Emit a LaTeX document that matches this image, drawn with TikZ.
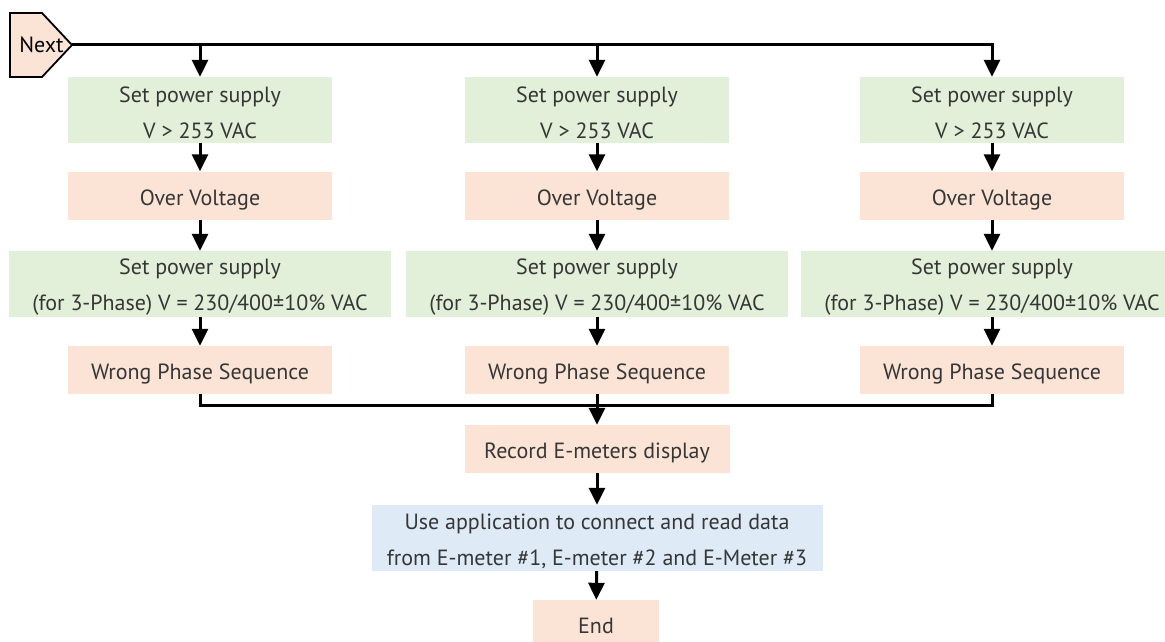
\documentclass[tikz,border=0pt]{standalone}
\usepackage{fontspec}
\setmainfont{PT Sans}
\usetikzlibrary{arrows.meta,calc,positioning}
\definecolor{greenbox}{HTML}{E2EFD9}
\definecolor{orangebox}{HTML}{FBE4D5}
\definecolor{bluebox}{HTML}{DEEAF6}
\definecolor{boxtext}{HTML}{363636}
\newcommand\lowfirst{\rule{0pt}{22pt}}

\begin{document}
\begin{tikzpicture}[x=1pt,y=-1pt,
  every node/.style={align=center,inner sep=0pt,text=boxtext,font=\fontsize{22}{36}\selectfont},
  setbox/.style={fill=greenbox,minimum height=66pt},
  statebox/.style={fill=orangebox,minimum width=264pt,minimum height=48pt,text height=23pt,text depth=4pt},
  appbox/.style={fill=bluebox,minimum width=451pt,minimum height=66pt},
  flow/.style={line width=3pt,-{Triangle[width=16pt,length=17pt]}},
  joint/.style={line width=3pt}]
\useasboundingbox (0,0) rectangle (1165,642);
\draw [line width=1.8pt,fill=orangebox] (10,13) -- (42,13) -- (72,45) -- (42,77) -- (10,77) -- cycle;
\node [text=black] (Next) at (41.5,45) {Next};
\coordinate (NextTip) at (72,45);
\node [setbox,minimum width=264pt] (SetHigh1) at (200,110) {\lowfirst Set power supply\\V > 253 VAC};
\node [setbox,minimum width=264pt] (SetHigh2) at (597,110) {\lowfirst Set power supply\\V > 253 VAC};
\node [setbox,minimum width=264pt] (SetHigh3) at (992,110) {\lowfirst Set power supply\\V > 253 VAC};
\node [statebox] (Over1) at (200,195.5) {Over Voltage};
\node [statebox] (Over2) at (597,195.5) {Over Voltage};
\node [statebox] (Over3) at (992,195.5) {Over Voltage};
\node [setbox,minimum width=382pt] (SetPhase1) at (200,284) {\lowfirst Set power supply\\(for 3-Phase) V = 230/400±10\% VAC};
\node [setbox,minimum width=382pt] (SetPhase2) at (597,284) {\lowfirst Set power supply\\(for 3-Phase) V = 230/400±10\% VAC};
\node [setbox,minimum width=382pt] (SetPhase3) at (992,284) {\lowfirst Set power supply\\(for 3-Phase) V = 230/400±10\% VAC};
\node [statebox] (Wrong1) at (200,370) {Wrong Phase Sequence};
\node [statebox] (Wrong2) at (597,370) {Wrong Phase Sequence};
\node [statebox] (Wrong3) at (992,370) {Wrong Phase Sequence};
\coordinate (Merge) at (597,405);
\node [statebox,minimum width=265pt] (Record) at (597,449) {Record E-meters display};
\node [appbox] (ReadData) at (597,538) {\lowfirst Use application to connect and read data\\from E-meter \#1, E-meter \#2 and E-Meter \#3};
\node [statebox,minimum width=126pt] (End) at (596,624) {End};
\draw [flow] (NextTip) -| (SetHigh3.north);
\draw [flow] (SetHigh1.north |- NextTip) -- (SetHigh1.north);
\draw [flow] (SetHigh2.north |- NextTip) -- (SetHigh2.north);
\draw [flow] (SetHigh1) -- (Over1);
\draw [flow] (SetHigh2) -- (Over2);
\draw [flow] (SetHigh3) -- (Over3);
\draw [flow] (Over1) -- (SetPhase1);
\draw [flow] (Over2) -- (SetPhase2);
\draw [flow] (Over3) -- (SetPhase3);
\draw [flow] (SetPhase1) -- (Wrong1);
\draw [flow] (SetPhase2) -- (Wrong2);
\draw [flow] (SetPhase3) -- (Wrong3);
\draw [joint] (Wrong1.south) |- (Merge) -| (Wrong3.south);
\draw [flow] (Wrong2.south) -- (Record.north);
\draw [flow] (Record) -- (ReadData);
\draw [flow] (ReadData) -- (End);
\end{tikzpicture}
\end{document}
